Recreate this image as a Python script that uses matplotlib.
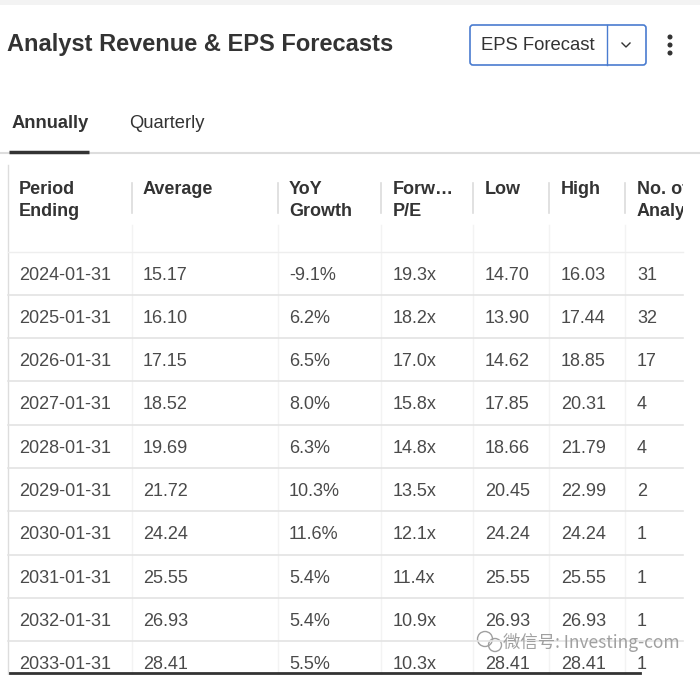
import matplotlib
matplotlib.use("Agg")
import matplotlib.pyplot as plt
from matplotlib.patches import Rectangle, FancyBboxPatch, Circle
from matplotlib.transforms import Bbox

# table data
periods = ["2024-01-31", "2025-01-31", "2026-01-31", "2027-01-31", "2028-01-31",
           "2029-01-31", "2030-01-31", "2031-01-31", "2032-01-31", "2033-01-31"]
average = [15.17, 16.10, 17.15, 18.52, 19.69, 21.72, 24.24, 25.55, 26.93, 28.41]
yoy_growth = [-9.1, 6.2, 6.5, 8.0, 6.3, 10.3, 11.6, 5.4, 5.4, 5.5]
forward_pe = [19.3, 18.2, 17.0, 15.8, 14.8, 13.5, 12.1, 11.4, 10.9, 10.3]
low = [14.70, 13.90, 14.62, 17.85, 18.66, 20.45, 24.24, 25.55, 26.93, 28.41]
high = [16.03, 17.44, 18.85, 20.31, 21.79, 22.99, 24.24, 25.55, 26.93, 28.41]
analysts = [31, 32, 17, 4, 4, 2, 1, 1, 1, 1]

headers = [("Period", "Ending"), ("Average", ""), ("YoY", "Growth"), ("Forw\u2026", "P/E"),
           ("Low", ""), ("High", ""), ("No. of", "Analysts")]

plt.rcParams['font.family'] = ['Liberation Sans', 'DejaVu Sans']

fig = plt.figure(figsize=(7, 6.75), dpi=100)
ax = fig.add_axes([0, 0, 1, 1])
ax.set_xlim(0, 700)
ax.set_ylim(675, 0)
ax.axis("off")

dark = "#333333"
body = "#4a4a4a"
grid = "#e3e3e3"

# top strip
ax.add_patch(Rectangle((0, 0), 700, 5, color="#f3f3f3", lw=0))

# title and controls
ax.text(7, 44, "Analyst Revenue & EPS Forecasts", fontsize=17, fontweight="bold",
        color=dark, va="center")
ax.add_patch(FancyBboxPatch((470, 25), 176, 40, boxstyle="round,pad=0,rounding_size=3",
                            fc="white", ec="#4a7cd0", lw=1.2))
ax.plot([607, 607], [25, 65], color="#4a7cd0", lw=1)
ax.text(481, 45, "EPS Forecast", fontsize=13.3, color=dark, va="center")
ax.plot([622, 626, 630], [43, 47, 43], color=dark, lw=1)
for yy in (37, 45, 53):
    ax.add_patch(Circle((670, yy), 1.8, color=dark))

# tabs
ax.text(12, 124, "Annually", fontsize=13.2, fontweight="bold", color=dark, va="center")
ax.text(129, 124, "Quarterly", fontsize=13.2, color=dark, va="center")
ax.plot([0, 700], [153, 153], color="#dddddd", lw=1.5)
ax.plot([9, 89], [152, 152], color=dark, lw=2.5, solid_capstyle="butt")

# table grid; the table is cut at the right edge like the page
clip_box = Bbox([[0, 0], [683, 675]])
col_x = [19, 143, 289, 393, 485, 561, 637]
sep_x = [132, 278, 381, 473, 549, 625]
ax.plot([8, 8], [165, 675], color="#dddddd", lw=1)
for sx in sep_x:
    ax.plot([sx, sx], [183, 213], color="#dcdcdc", lw=1.2)
    ax.plot([sx, sx], [225, 675], color="#f3f3f3", lw=1)

row_h = 43.3
ax.plot([8, 683], [251.5, 251.5], color="#eeeeee", lw=1)
for i in range(1, len(periods)):
    y = 251.5 + row_h * i
    ax.plot([8, 683], [y, y], color=grid, lw=1.2)

for j, (h1, h2) in enumerate(headers):
    for k, h in enumerate((h1, h2)):
        if h:
            t = ax.text(col_x[j], 190 + 21 * k, h, fontsize=13, fontweight="bold",
                        color=dark, va="center")
            t.set_clip_box(clip_box)
            t.set_clip_on(True)

for i in range(len(periods)):
    y = 275 + row_h * i
    cells = [periods[i], f"{average[i]:.2f}", f"{yoy_growth[i]:.1f}%",
             f"{forward_pe[i]:.1f}x", f"{low[i]:.2f}", f"{high[i]:.2f}", str(analysts[i])]
    for j, c in enumerate(cells):
        t = ax.text(col_x[j], y, c, fontsize=13, color=body, va="center")
        t.set_clip_box(clip_box)
        t.set_clip_on(True)

ax.plot([10, 640], [673, 673], color=dark, lw=2)

# watermark
wm = "#a0a0a0"
ax.add_patch(Circle((485, 639), 7.5, fill=False, ec=wm, lw=1))
ax.add_patch(Circle((495, 645), 6.5, fill=False, ec=wm, lw=1))
ax.text(503, 642, "\u5fae\u4fe1\u53f7: Investing-com", fontsize=12.5, color=wm, va="center",
        family=['Noto Sans CJK SC', 'DejaVu Sans'])

fig.savefig("out.png", dpi=100)
